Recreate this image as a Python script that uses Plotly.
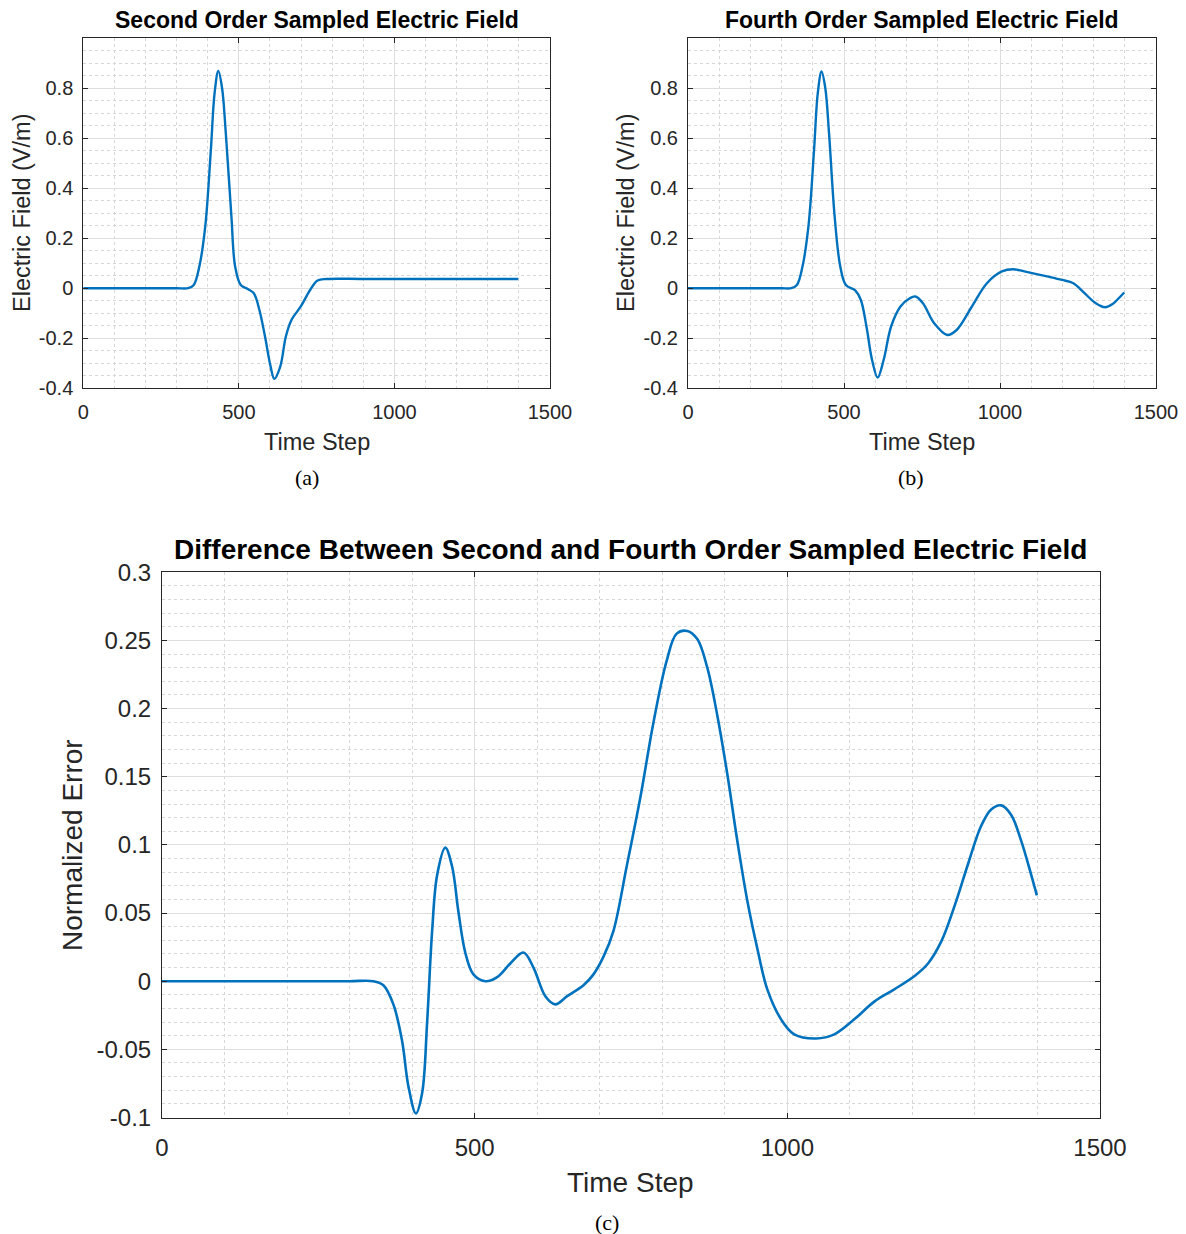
import plotly.graph_objects as go

# ---------------- data ----------------
t_second = [0, 100, 200, 300, 337, 355, 373, 392, 410, 422, 434, 446, 458, 476, 488, 506, 530, 548, 566,
            584, 602, 614, 633, 651, 669, 699, 729, 753, 783, 900, 1100, 1300, 1398]
e_second = [0, 0, 0, 0, 0, 0.013, 0.087, 0.247, 0.553, 0.78, 0.868, 0.80, 0.62, 0.287, 0.087, 0.013,
            -0.004, -0.02, -0.087, -0.193, -0.313, -0.362, -0.313, -0.193, -0.127, -0.073,
            -0.007, 0.031, 0.037, 0.037, 0.037, 0.037, 0.037]

t_fourth = [0, 100, 200, 300, 331, 349, 367, 386, 404, 416, 428, 440, 452, 470, 488, 506, 536, 554, 572,
            590, 608, 627, 651, 681, 711, 729, 753, 789, 831, 861, 910, 958, 1006, 1042,
            1078, 1151, 1199, 1235, 1271, 1307, 1337, 1361, 1386, 1398]
e_fourth = [0, 0, 0, 0, 0, 0.013, 0.087, 0.247, 0.553, 0.78, 0.866, 0.80, 0.62, 0.287, 0.087, 0.013,
            -0.009, -0.047, -0.153, -0.287, -0.357, -0.287, -0.153, -0.073, -0.04, -0.033,
            -0.06, -0.14, -0.187, -0.167, -0.073, 0.02, 0.067, 0.076, 0.067, 0.047, 0.033,
            0.02, -0.02, -0.06, -0.076, -0.063, -0.033, -0.017]

t_diff = [0, 100, 200, 300, 338, 354, 370, 384, 394, 406, 416, 424, 432, 440, 453, 464, 474, 485, 498,
          517, 536, 557, 578, 594, 613, 629, 648, 674, 690, 706, 722, 743, 765, 786, 807,
          823, 840, 856, 872, 888, 904, 920, 936, 952, 968, 990, 1011, 1046, 1075, 1107,
          1139, 1171, 1204, 1225, 1246, 1268, 1289, 1310, 1326, 1342, 1358, 1374, 1390, 1399]
err_diff = [0, 0, 0, 0, 0, -0.003, -0.017, -0.044, -0.077, -0.097, -0.082, -0.030, 0.037, 0.078,
            0.098, 0.084, 0.051, 0.021, 0.005, 0, 0.003, 0.013, 0.021, 0.010, -0.011, -0.017,
            -0.011, -0.003, 0.005, 0.018, 0.037, 0.084, 0.135, 0.19, 0.235, 0.255, 0.257,
            0.251, 0.23, 0.195, 0.152, 0.103, 0.059, 0.024, -0.006, -0.028, -0.039, -0.042,
            -0.039, -0.028, -0.015, -0.006, 0.004, 0.013, 0.029, 0.056, 0.086, 0.114, 0.126,
            0.129, 0.122, 0.103, 0.078, 0.063]

x_ticks = [0, 500, 1000, 1500]
y_ticks_top = [-0.4, -0.2, 0, 0.2, 0.4, 0.6, 0.8]
y_labels_top = ["-0.4", "-0.2", "0", "0.2", "0.4", "0.6", "0.8"]
y_ticks_bot = [-0.1, -0.05, 0, 0.05, 0.1, 0.15, 0.2, 0.25, 0.3]
y_labels_bot = ["-0.1", "-0.05", "0", "0.05", "0.1", "0.15", "0.2", "0.25", "0.3"]

titles = ["Second Order Sampled Electric Field",
          "Fourth Order Sampled Electric Field",
          "Difference Between Second and Fourth Order Sampled Electric Field"]
captions = ["(a)", "(b)", "(c)"]

# ---------------- layout helpers ----------------
W, H = 1186, 1234
def px(x):
    return x / W
def py(y):
    return 1 - y / H

LINE = "#0072BD"
AXC = "#262626"
TXT = "#262626"
MAJ = "#dedede"
MIN = "#d6d6d6"
FONT = "Liberation Sans, Arial, sans-serif"

fig = go.Figure()
fig.add_trace(go.Scatter(x=t_second, y=e_second, mode="lines", xaxis="x", yaxis="y",
                         line=dict(color=LINE, width=2.4, shape="spline", smoothing=1.0),
                         showlegend=False))
fig.add_trace(go.Scatter(x=t_fourth, y=e_fourth, mode="lines", xaxis="x2", yaxis="y2",
                         line=dict(color=LINE, width=2.4, shape="spline", smoothing=1.0),
                         showlegend=False))
fig.add_trace(go.Scatter(x=t_diff, y=err_diff, mode="lines", xaxis="x3", yaxis="y3",
                         line=dict(color=LINE, width=2.6, shape="spline", smoothing=1.0),
                         showlegend=False))

def xax(domain, anchor, fs, stand):
    return dict(domain=domain, anchor=anchor, range=[0, 1500], tickvals=x_ticks,
                ticktext=[str(v) for v in x_ticks], automargin=False,
                showline=True, linecolor=AXC, linewidth=1, mirror="ticks",
                ticks="inside", ticklen=5, tickcolor=AXC, tickwidth=1,
                showgrid=True, gridcolor=MAJ, gridwidth=1, zeroline=False,
                tickfont=dict(family=FONT, size=fs, color=TXT), ticklabelstandoff=stand,
                minor=dict(dtick=100, tick0=0, showgrid=True, gridcolor=MIN,
                           griddash="dot", gridwidth=1, ticks=""),
                fixedrange=True)

def yax(domain, anchor, rng, vals, labels, dtick_minor, fs, stand):
    return dict(domain=domain, anchor=anchor, range=rng, tickvals=vals, ticktext=labels,
                automargin=False,
                showline=True, linecolor=AXC, linewidth=1, mirror="ticks",
                ticks="inside", ticklen=5, tickcolor=AXC, tickwidth=1,
                showgrid=True, gridcolor=MAJ, gridwidth=1, zeroline=False,
                tickfont=dict(family=FONT, size=fs, color=TXT), ticklabelstandoff=stand,
                minor=dict(dtick=dtick_minor, tick0=0, showgrid=True, gridcolor=MIN,
                           griddash="dot", gridwidth=1, ticks=""),
                fixedrange=True)

top_y = [py(388.3), py(38)]
bot_y = [py(1117.5), py(572.3)]

fig.update_layout(
    width=W, height=H, margin=dict(l=0, r=0, t=0, b=0, autoexpand=False),
    paper_bgcolor="white", plot_bgcolor="white",
    xaxis=xax([px(83.3), px(550)], "y", 20, 6),
    yaxis=yax(top_y, "x", [-0.4, 1.0], y_ticks_top, y_labels_top, 0.05, 20, 5),
    xaxis2=xax([px(688), px(1156)], "y2", 20, 6),
    yaxis2=yax(top_y, "x2", [-0.4, 1.0], y_ticks_top, y_labels_top, 0.05, 20, 5),
    xaxis3=xax([px(162), px(1100)], "y3", 24, 9),
    yaxis3=yax(bot_y, "x3", [-0.1, 0.3], y_ticks_bot, y_labels_bot, 0.01, 24, 5),
)

ann = []
def text(x, y, s, size, bold=False, angle=0, family=FONT, color=TXT):
    ann.append(dict(x=px(x), y=py(y), xref="paper", yref="paper", text=("<b>%s</b>" % s) if bold else s,
                    showarrow=False, textangle=angle, xanchor="center", yanchor="middle",
                    font=dict(family=family, size=size, color=color)))

# titles
text(317, 20, titles[0], 23, bold=True, color="#000000")
text(922, 20, titles[1], 23, bold=True, color="#000000")
text(630, 550, titles[2], 28, bold=True, color="#000000")
# axis titles
text(317, 442, "Time Step", 23.5)
text(922, 442, "Time Step", 23.5)
text(630, 1182, "Time Step", 28)
text(22, 213, "Electric Field (V/m)", 23.5, angle=-90)
text(626, 213, "Electric Field (V/m)", 23.5, angle=-90)
text(72, 845, "Normalized Error", 28, angle=-90)
# captions
text(307, 478, captions[0], 22, family="Liberation Serif", color="#000000")
text(911, 478, captions[1], 22, family="Liberation Serif", color="#000000")
text(607, 1222, captions[2], 22, family="Liberation Serif", color="#000000")

fig.update_layout(annotations=ann)
fig.write_html("out.html")
